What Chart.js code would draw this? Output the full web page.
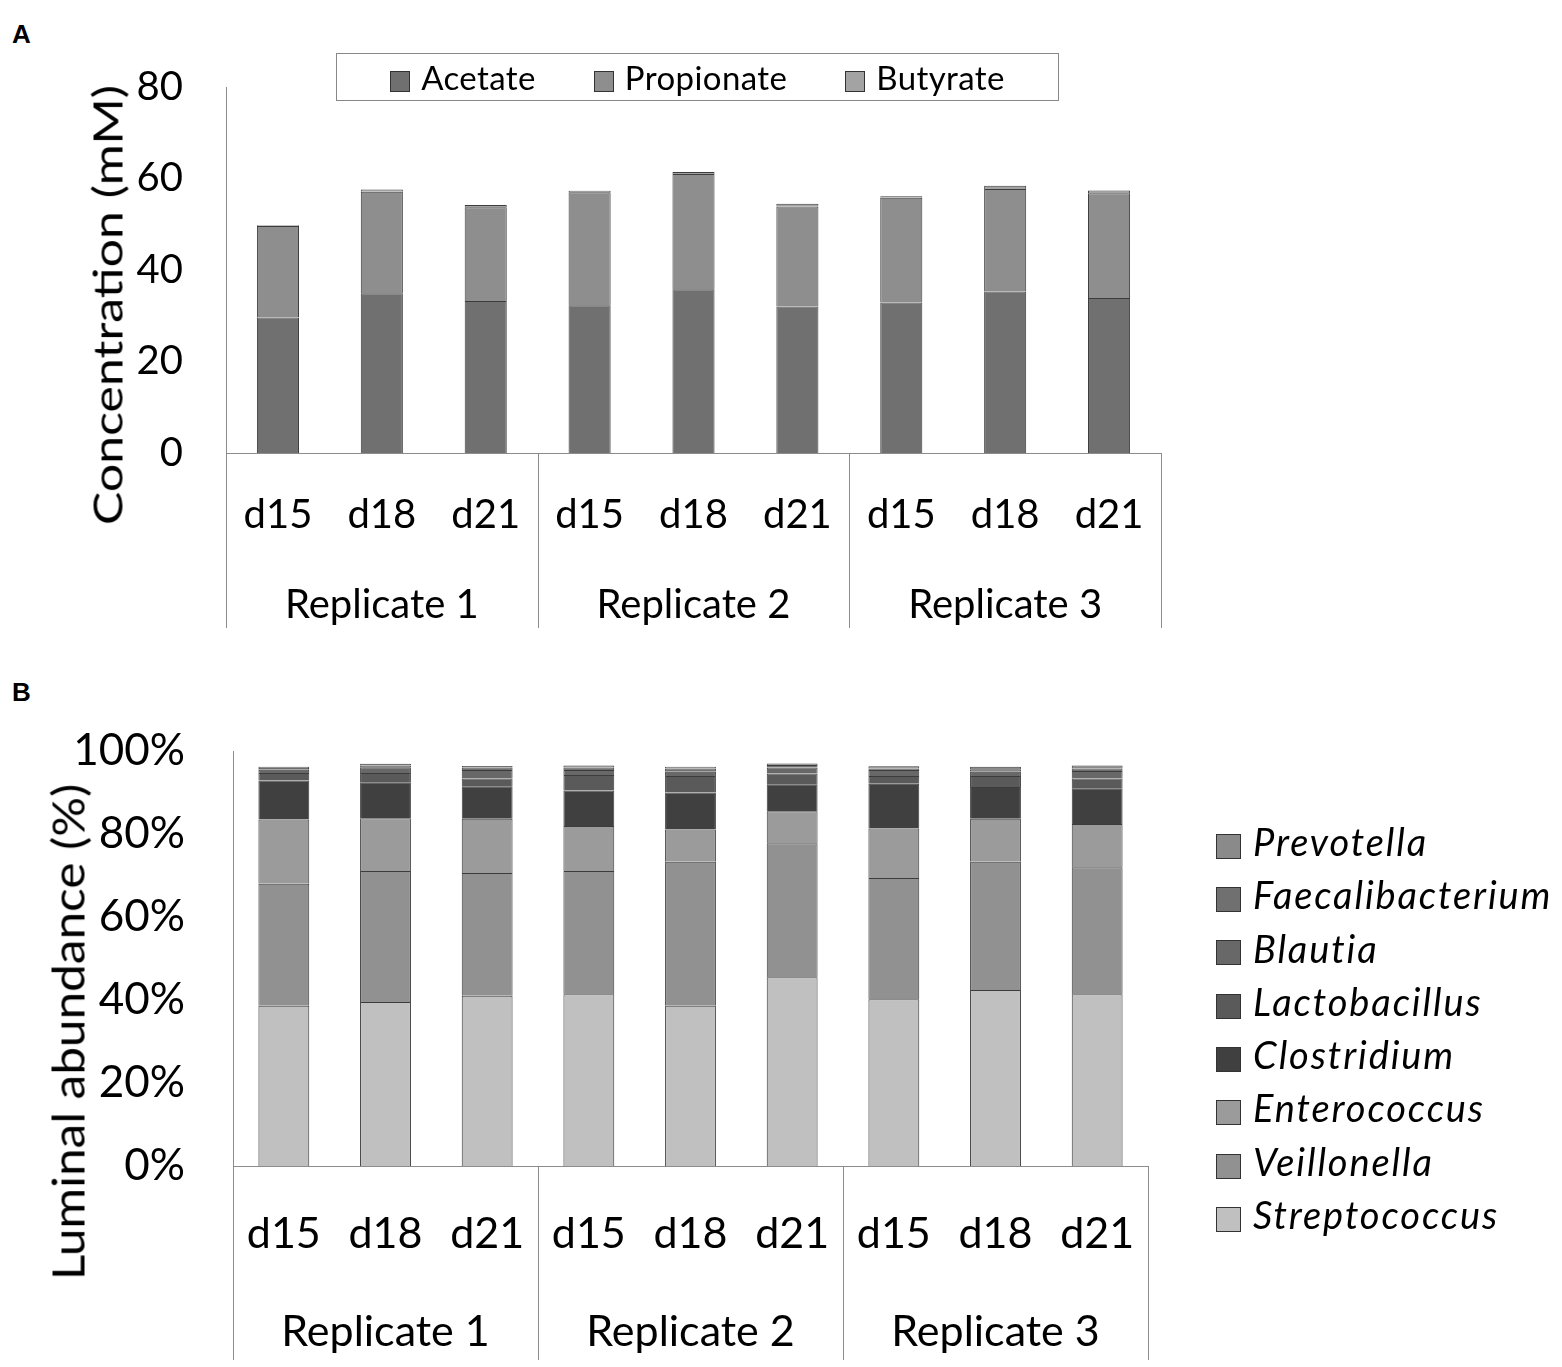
<!DOCTYPE html>
<html>
<head>
<meta charset="utf-8">
<script src="https://cdn.jsdelivr.net/npm/chart.js@4.4.1/dist/chart.umd.min.js"></script>
<style>
  body { margin: 0; background: #fff; }
  #page { position: relative; width: 1562px; height: 1367px; font-family: Lato, sans-serif; }
  canvas { position: absolute; left: 0; }
  .panel { position: absolute; font: bold 26px "Liberation Sans", Arial, sans-serif; }
  .ytitle { position: absolute; white-space: nowrap; line-height: 1; }
  #legendA { position: absolute; left: 336px; top: 53px; width: 721px; height: 46px; border: 1px solid #888;
             display: flex; justify-content: center; align-items: center; gap: 58px; font-size: 33px; letter-spacing: 0.4px; }
  #legendA span.sw, #legendB span.sw { display: inline-block; box-sizing: border-box; border: 1px solid #333; vertical-align: middle; }
  #legendA span.sw { width: 20px; height: 21px; margin-right: 11px; }
  #legendB { position: absolute; left: 1216px; top: 815px; font-size: 38px; font-style: italic; letter-spacing: 1.9px; }
  #legendB div { height: 53.3px; line-height: 53.3px; white-space: nowrap; }
  #legendB span.sw { width: 25px; height: 25px; margin-right: 12px; border-width: 1.5px; }
</style>
</head>
<body>
<div id="page">
  <div class="panel" style="left:12px; top:19px;">A</div>
  <div class="panel" style="left:12px; top:677px;">B</div>
  <canvas id="chartA" width="1562" height="640" style="top:0"></canvas>
  <canvas id="chartB" width="1562" height="707" style="top:660px"></canvas>
  <div class="ytitle" style="left:107px; top:305px; font-size:41px; transform: translate(-50%, -50%) rotate(-90deg) scaleX(1.22);">Concentration (mM)</div>
  <div class="ytitle" style="left:68px; top:1032px; font-size:45px; transform: translate(-50%, -50%) rotate(-90deg) scaleX(1.1);">Luminal abundance (%)</div>
  <div id="legendA"></div>
  <div id="legendB"></div>
</div>
<script>
// categories
var days = ['d15', 'd18', 'd21', 'd15', 'd18', 'd21', 'd15', 'd18', 'd21'];
var replicates = ['Replicate 1', 'Replicate 2', 'Replicate 3'];

// panel A: SCFA concentration (mM)
var acetate    = [29.6, 34.9, 33.2, 32.3, 35.8, 32.0, 32.9, 35.3, 33.9];
var propionate = [20.0, 22.2, 20.5, 24.7, 25.2, 21.9, 22.9, 22.4, 22.9];
var butyrate   = [0.2, 0.5, 0.5, 0.3, 0.4, 0.6, 0.3, 0.7, 0.6];

// panel B: luminal abundance (%), bottom of stack first
var streptococcus    = [38.6, 39.5, 41.0, 41.4, 38.6, 45.5, 40.2, 42.4, 41.4];
var veillonella      = [29.4, 31.6, 29.6, 29.7, 34.7, 32.3, 29.2, 30.9, 30.6];
var enterococcus     = [15.5, 12.7, 13.1, 10.8, 7.8, 7.7, 11.9, 10.4, 10.4];
var clostridium      = [9.4, 8.7, 7.8, 8.6, 8.9, 6.5, 10.8, 7.6, 8.6];
var lactobacillus    = [1.8, 2.2, 1.9, 3.7, 4.0, 2.6, 1.9, 2.7, 2.4];
var blautia          = [0.8, 1.4, 2.0, 1.2, 1.0, 1.4, 1.4, 1.0, 1.8];
var faecalibacterium = [0.4, 0.4, 0.6, 0.6, 0.8, 0.6, 0.4, 0.6, 0.6];
var prevotella       = [0.3, 0.4, 0.4, 0.5, 0.4, 0.4, 0.5, 0.6, 0.7];

Chart.defaults.font.family = 'Lato, sans-serif';
Chart.defaults.color = '#000';

var axisGray = '#8c8c8c';

// vertical lines that box the two-level category axis
var groupLines = {
    id: 'groupLines',
    afterDraw: function (chart) {
        var x = chart.scales.x, x2 = chart.scales.x2, ctx = chart.ctx;
        var per = days.length / replicates.length;
        ctx.save();
        ctx.strokeStyle = axisGray;
        ctx.lineWidth = 1;
        for (var g = 0; g <= replicates.length; g++) {
            var px = Math.round(x.getPixelForValue(g * per - 0.5)) + 0.5;
            ctx.beginPath();
            ctx.moveTo(px, chart.chartArea.bottom);
            ctx.lineTo(px, x2.bottom);
            ctx.stroke();
        }
        ctx.restore();
    }
};

function ds(label, values, color) {
    return { label: label, data: values, backgroundColor: color, borderColor: '#3c3c3c', borderWidth: 1 };
}

function makeOptions(o) {
    return {
        responsive: false,
        animation: false,
        layout: { padding: o.padding },
        plugins: { legend: { display: false }, tooltip: { enabled: false } },
        datasets: { bar: { categoryPercentage: 1, barPercentage: o.barPct } },
        scales: {
            y: {
                stacked: true, min: 0, max: o.max,
                ticks: { stepSize: 20, padding: o.yPad, font: { size: o.yFont }, callback: o.yFmt },
                grid: { display: false, drawTicks: false },
                border: { display: true, color: axisGray },
                afterFit: function (s) { s.width = o.yWidth; }
            },
            x: {
                stacked: true,
                ticks: { padding: o.xPad, font: { size: o.xFont }, maxRotation: 0 },
                grid: { display: false, drawTicks: false },
                border: { display: true, color: axisGray },
                afterFit: function (s) { s.height = o.xH; }
            },
            x2: {
                type: 'category', labels: replicates, position: 'bottom', offset: true, weight: 1,
                ticks: { padding: o.x2Pad, font: { size: o.xFont }, maxRotation: 0 },
                grid: { display: false, drawTicks: false },
                border: { display: false },
                afterFit: function (s) { s.height = o.x2H; }
            }
        }
    };
}

var chartA = new Chart(document.getElementById('chartA'), {
    type: 'bar',
    data: {
        labels: days,
        datasets: [
            ds('Acetate', acetate, '#707070'),
            ds('Propionate', propionate, '#8e8e8e'),
            ds('Butyrate', butyrate, '#a3a3a3')
        ]
    },
    options: makeOptions({
        padding: { left: 0, right: 401, top: 87, bottom: 12 },
        barPct: 0.405, max: 80, yPad: 43, yFont: 40, yWidth: 226,
        xPad: 38, xFont: 40, xH: 88, x2Pad: 40, x2H: 87,
        yFmt: function (v) { return v; }
    }),
    plugins: [groupLines]
});

var chartB = new Chart(document.getElementById('chartB'), {
    type: 'bar',
    data: {
        labels: days,
        datasets: [
            ds('Streptococcus', streptococcus, '#c0c0c0'),
            ds('Veillonella', veillonella, '#919191'),
            ds('Enterococcus', enterococcus, '#9b9b9b'),
            ds('Clostridium', clostridium, '#404040'),
            ds('Lactobacillus', lactobacillus, '#5a5a5a'),
            ds('Blautia', blautia, '#686868'),
            ds('Faecalibacterium', faecalibacterium, '#707070'),
            ds('Prevotella', prevotella, '#8a8a8a')
        ]
    },
    options: makeOptions({
        padding: { left: 0, right: 414, top: 91, bottom: 7 },
        barPct: 0.5, max: 100, yPad: 48, yFont: 44, yWidth: 233,
        xPad: 42, xFont: 43, xH: 116, x2Pad: 24, x2H: 78,
        yFmt: function (v) { return v + '%'; }
    }),
    plugins: [groupLines]
});

// html legends built from the chart datasets
function buildLegend(chart, el, reverse) {
    var sets = chart.data.datasets.slice();
    if (reverse) sets.reverse();
    sets.forEach(function (d) {
        var item = document.createElement(reverse ? 'div' : 'span');
        var sw = document.createElement('span');
        sw.className = 'sw';
        sw.style.background = d.backgroundColor;
        item.appendChild(sw);
        item.appendChild(document.createTextNode(d.label));
        el.appendChild(item);
    });
}
buildLegend(chartA, document.getElementById('legendA'), false);
buildLegend(chartB, document.getElementById('legendB'), true);
</script>
</body>
</html>
